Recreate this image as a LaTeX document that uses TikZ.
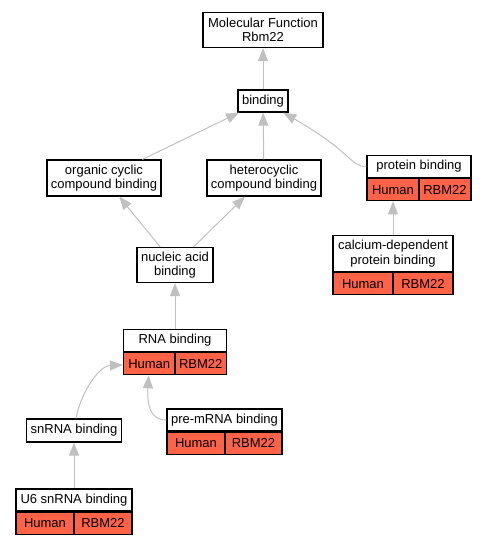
\documentclass[tikz,border=0pt]{standalone}
\usepackage{fontspec}
\setmainfont{Liberation Sans}
\usepackage{tikz}
\usetikzlibrary{arrows.meta}
\definecolor{edgegray}{HTML}{C0C0C0}
\definecolor{tomato}{HTML}{FF6347}
\tikzset{
	% Two node styles for the term graph: plain term box and species cell
	term node/.style={rectangle,draw,line width=1.2pt,fill=white,inner sep=0,align=center,minimum height=22pt},
	hit cell/.style={rectangle,draw,line width=1.2pt,fill=tomato,inner sep=0,minimum height=22pt},
	isa edge/.style={draw=edgegray,line width=1pt,-{Triangle[length=13pt,width=10pt]}}
}
\begin{document}
\begin{tikzpicture}[x=1pt,y=-1pt,font=\fontsize{13}{14.5}\selectfont]
				% macro for the Human | RBM22 row under a term
				\newcommand{\hits}[3]{
					\node[hit cell,minimum width=#2,anchor=north west](#1-h)at(#1.south west){Human};
					\node[hit cell,minimum width=#3,anchor=north east](#1-r)at(#1.south east){RBM22};
				}
				\useasboundingbox (0,0) rectangle (485,544);
				
				\node(mol-fn)[term node,minimum width=120pt,minimum height=35pt]at(263,30){Molecular Function\\Rbm22};
				\node(bind)[term node,minimum width=50pt]at(263,101){binding};
				\node(org-cyc)[term node,minimum width=114pt,minimum height=36pt]at(104,178){organic cyclic\\compound binding};
				\node(het-cyc)[term node,minimum width=114pt,minimum height=36pt]at(264,178){heterocyclic\\compound binding};
				\node(prot)[term node,minimum width=104pt]at(419,166.5){protein binding};
				\hits{prot}{52pt}{52pt}
				\node(cal-prot)[term node,minimum width=120pt,minimum height=36pt]at(393,253.5){calcium-dependent\\protein binding};
				\hits{cal-prot}{60pt}{60pt}
				\node(nuc-acid)[term node,minimum width=76pt,minimum height=35pt]at(175,265){nucleic acid\\binding};
				\node(rna)[term node,minimum width=103pt]at(175,340.5){RNA binding};
				\hits{rna}{51.5pt}{51.5pt}
				\node(snrna)[term node,minimum width=95pt,minimum height=23pt]at(74,430.5){snRNA binding};
				\node(pre-mrna)[term node,minimum width=115pt]at(224.5,420){pre-mRNA binding};
				\hits{pre-mrna}{58pt}{57pt}
				\node(u6)[term node,minimum width=116pt]at(74,500){U6 snRNA binding};
				\hits{u6}{58pt}{58pt}
				
				% is-a edges, child to parent
				\draw[isa edge](bind)--(mol-fn);
				\draw[isa edge](org-cyc)--(bind);
				\draw[isa edge](het-cyc)--(bind);
				\draw[isa edge](prot) .. controls (350,166.5) and (352,152) .. (bind);
				\draw[isa edge](cal-prot)--(prot-h);
				\draw[isa edge](nuc-acid)--(org-cyc);
				\draw[isa edge](nuc-acid)--(het-cyc);
				\draw[isa edge](rna)--(nuc-acid);
				\draw[isa edge](snrna) .. controls (80,395) and (98,366) .. (rna-h);
				\draw[isa edge](pre-mrna) .. controls (150,420) and (147,405) .. (rna-h);
				\draw[isa edge](u6)--(snrna);
			\end{tikzpicture}
\end{document}
